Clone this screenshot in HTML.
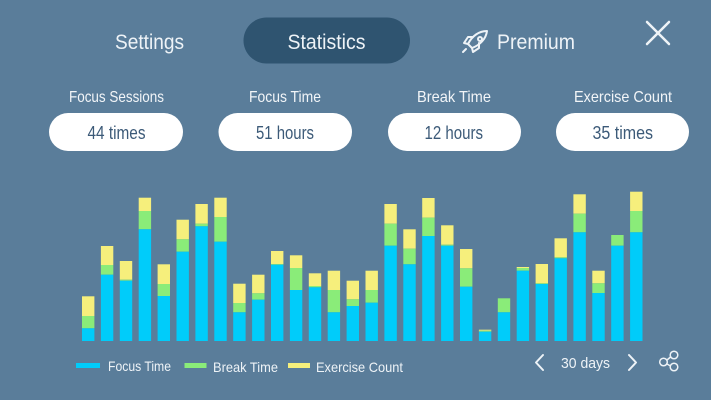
<!DOCTYPE html>
<html><head><meta charset="utf-8"><style>
html,body{margin:0;padding:0;background:#5a7d9a;}
svg{display:block;}
text{font-family:"Liberation Sans","DejaVu Sans",sans-serif;}
</style></head><body>
<svg width="711" height="400" viewBox="0 0 711 400" xmlns="http://www.w3.org/2000/svg">
<rect width="711" height="400" fill="#5a7d9a"/>
<!-- tabs -->
<rect x="243.5" y="17.5" width="166.5" height="46" rx="23" fill="#2f5470"/>
<g fill="#eef3f7" font-size="21">
<text x="115" y="49" textLength="69" lengthAdjust="spacingAndGlyphs">Settings</text>
<text x="287.5" y="49" textLength="78" lengthAdjust="spacingAndGlyphs">Statistics</text>
<text x="497" y="49" textLength="78" lengthAdjust="spacingAndGlyphs">Premium</text>
</g>
<!-- rocket icon -->
<g fill="none" stroke="#eef3f7" stroke-width="2" stroke-linejoin="round" stroke-linecap="round">
<path d="M487 31 C479 31 472 36 468 44 L472 48 C480 45 486 39 487 31 Z"/>
<circle cx="480" cy="39" r="2"/>
<path d="M468 44 L464 43 L468 37 L473 37"/>
<path d="M472 48 L473 52 L479 48 L479 43"/>
<path d="M466 49 L463 52"/>
</g>
<!-- close X -->
<g stroke="#eef3f7" stroke-width="2.5" stroke-linecap="round">
<line x1="647" y1="22" x2="669" y2="44"/>
<line x1="669" y1="22" x2="647" y2="44"/>
</g>
<!-- stat labels -->
<g fill="#f2f5f8" font-size="16">
<text x="69" y="102" textLength="95" lengthAdjust="spacingAndGlyphs">Focus Sessions</text>
<text x="249" y="102" textLength="72" lengthAdjust="spacingAndGlyphs">Focus Time</text>
<text x="417" y="102" textLength="74" lengthAdjust="spacingAndGlyphs">Break Time</text>
<text x="574" y="102" textLength="98" lengthAdjust="spacingAndGlyphs">Exercise Count</text>
</g>
<!-- pills -->
<g fill="#ffffff">
<rect x="49" y="113" width="134" height="38" rx="19"/>
<rect x="218.5" y="113" width="133.5" height="38" rx="19"/>
<rect x="388" y="113" width="133" height="38" rx="19"/>
<rect x="556" y="113" width="133" height="38" rx="19"/>
</g>
<g fill="#3c5a78" font-size="18">
<text x="87.5" y="139" textLength="58" lengthAdjust="spacingAndGlyphs">44 times</text>
<text x="256" y="139" textLength="58" lengthAdjust="spacingAndGlyphs">51 hours</text>
<text x="424.5" y="139" textLength="58.5" lengthAdjust="spacingAndGlyphs">12 hours</text>
<text x="592.5" y="139" textLength="60.5" lengthAdjust="spacingAndGlyphs">35 times</text>
</g>
<!-- legend -->
<rect x="76" y="363" width="24" height="5" fill="#00ccfa"/>
<rect x="184.5" y="363" width="22" height="5" fill="#8aec79"/>
<rect x="288" y="363" width="22" height="5" fill="#f6ef7c"/>
<g fill="#eef3f7" font-size="14">
<text x="108" y="371" textLength="63" lengthAdjust="spacingAndGlyphs">Focus Time</text>
<text x="213" y="372" textLength="65" lengthAdjust="spacingAndGlyphs">Break Time</text>
<text x="316" y="372" textLength="87" lengthAdjust="spacingAndGlyphs">Exercise Count</text>
</g>
<!-- period nav -->
<g fill="none" stroke="#eef3f7" stroke-width="2" stroke-linecap="round" stroke-linejoin="round">
<polyline points="543,355 536,362.5 543,370"/>
<polyline points="629,355 636,362.5 629,370"/>
</g>
<text x="561" y="368" font-size="15" fill="#eef3f7" textLength="49" lengthAdjust="spacingAndGlyphs">30 days</text>
<!-- share -->
<g fill="none" stroke="#eef3f7" stroke-width="1.5">
<circle cx="663.5" cy="362" r="3.8"/>
<circle cx="674" cy="355" r="3.8"/>
<circle cx="674" cy="367" r="3.8"/>
<line x1="667" y1="360" x2="670.5" y2="357"/>
<line x1="667" y1="364" x2="670.5" y2="366"/>
</g>
<g id="b">
<rect x="82" y="296.3" width="12.4" height="19.7" fill="#f6ef7c"/><rect x="82" y="316" width="12.4" height="12.3" fill="#8aec79"/><rect x="82" y="328.3" width="12.4" height="12.7" fill="#00ccfa"/>
<rect x="100.9" y="246" width="12.4" height="19" fill="#f6ef7c"/><rect x="100.9" y="265" width="12.4" height="9.7" fill="#8aec79"/><rect x="100.9" y="274.7" width="12.4" height="66.3" fill="#00ccfa"/>
<rect x="119.8" y="261" width="12.4" height="18.7" fill="#f6ef7c"/><rect x="119.8" y="279.7" width="12.4" height="1" fill="#8aec79"/><rect x="119.8" y="280.7" width="12.4" height="60.3" fill="#00ccfa"/>
<rect x="138.7" y="197.7" width="12.4" height="13.3" fill="#f6ef7c"/><rect x="138.7" y="211" width="12.4" height="18.3" fill="#8aec79"/><rect x="138.7" y="229.3" width="12.4" height="111.7" fill="#00ccfa"/>
<rect x="157.6" y="264.3" width="12.4" height="19.7" fill="#f6ef7c"/><rect x="157.6" y="284" width="12.4" height="12" fill="#8aec79"/><rect x="157.6" y="296" width="12.4" height="45" fill="#00ccfa"/>
<rect x="176.5" y="219.7" width="12.4" height="19.6" fill="#f6ef7c"/><rect x="176.5" y="239.3" width="12.4" height="12.4" fill="#8aec79"/><rect x="176.5" y="251.7" width="12.4" height="89.3" fill="#00ccfa"/>
<rect x="195.4" y="204" width="12.4" height="19.7" fill="#f6ef7c"/><rect x="195.4" y="223.7" width="12.4" height="2.6" fill="#8aec79"/><rect x="195.4" y="226.3" width="12.4" height="114.7" fill="#00ccfa"/>
<rect x="214.3" y="197.7" width="12.4" height="19.3" fill="#f6ef7c"/><rect x="214.3" y="217" width="12.4" height="24.7" fill="#8aec79"/><rect x="214.3" y="241.7" width="12.4" height="99.3" fill="#00ccfa"/>
<rect x="233.2" y="283.7" width="12.4" height="19.3" fill="#f6ef7c"/><rect x="233.2" y="303" width="12.4" height="9.3" fill="#8aec79"/><rect x="233.2" y="312.3" width="12.4" height="28.7" fill="#00ccfa"/>
<rect x="252.1" y="274.7" width="12.4" height="18.6" fill="#f6ef7c"/><rect x="252.1" y="293.3" width="12.4" height="6.4" fill="#8aec79"/><rect x="252.1" y="299.7" width="12.4" height="41.3" fill="#00ccfa"/>
<rect x="271" y="251" width="12.4" height="13" fill="#f6ef7c"/><rect x="271" y="264" width="12.4" height="0.7" fill="#8aec79"/><rect x="271" y="264.7" width="12.4" height="76.3" fill="#00ccfa"/>
<rect x="289.9" y="255.3" width="12.4" height="12.7" fill="#f6ef7c"/><rect x="289.9" y="268" width="12.4" height="22" fill="#8aec79"/><rect x="289.9" y="290" width="12.4" height="51" fill="#00ccfa"/>
<rect x="308.8" y="273.3" width="12.4" height="12.7" fill="#f6ef7c"/><rect x="308.8" y="286" width="12.4" height="1.3" fill="#8aec79"/><rect x="308.8" y="287.3" width="12.4" height="53.7" fill="#00ccfa"/>
<rect x="327.7" y="270.7" width="12.4" height="19.3" fill="#f6ef7c"/><rect x="327.7" y="290" width="12.4" height="22.3" fill="#8aec79"/><rect x="327.7" y="312.3" width="12.4" height="28.7" fill="#00ccfa"/>
<rect x="346.6" y="280.7" width="12.4" height="18.6" fill="#f6ef7c"/><rect x="346.6" y="299.3" width="12.4" height="6.7" fill="#8aec79"/><rect x="346.6" y="306" width="12.4" height="35" fill="#00ccfa"/>
<rect x="365.5" y="270.7" width="12.4" height="19.3" fill="#f6ef7c"/><rect x="365.5" y="290" width="12.4" height="12.7" fill="#8aec79"/><rect x="365.5" y="302.7" width="12.4" height="38.3" fill="#00ccfa"/>
<rect x="384.4" y="204" width="12.4" height="19.7" fill="#f6ef7c"/><rect x="384.4" y="223.7" width="12.4" height="22" fill="#8aec79"/><rect x="384.4" y="245.7" width="12.4" height="95.3" fill="#00ccfa"/>
<rect x="403.3" y="229.3" width="12.4" height="19.4" fill="#f6ef7c"/><rect x="403.3" y="248.7" width="12.4" height="15.6" fill="#8aec79"/><rect x="403.3" y="264.3" width="12.4" height="76.7" fill="#00ccfa"/>
<rect x="422.2" y="198" width="12.4" height="19.7" fill="#f6ef7c"/><rect x="422.2" y="217.7" width="12.4" height="18.3" fill="#8aec79"/><rect x="422.2" y="236" width="12.4" height="105" fill="#00ccfa"/>
<rect x="441.1" y="225.3" width="12.4" height="19.4" fill="#f6ef7c"/><rect x="441.1" y="244.7" width="12.4" height="1" fill="#8aec79"/><rect x="441.1" y="245.7" width="12.4" height="95.3" fill="#00ccfa"/>
<rect x="460" y="249" width="12.4" height="19.3" fill="#f6ef7c"/><rect x="460" y="268.3" width="12.4" height="18.4" fill="#8aec79"/><rect x="460" y="286.7" width="12.4" height="54.3" fill="#00ccfa"/>
<rect x="478.9" y="329.7" width="12.4" height="1" fill="#f6ef7c"/><rect x="478.9" y="330.7" width="12.4" height="1" fill="#8aec79"/><rect x="478.9" y="331.7" width="12.4" height="9.3" fill="#00ccfa"/>
<rect x="497.8" y="298.3" width="12.4" height="14" fill="#8aec79"/><rect x="497.8" y="312.3" width="12.4" height="28.7" fill="#00ccfa"/>
<rect x="516.7" y="267" width="12.4" height="1" fill="#f6ef7c"/><rect x="516.7" y="268" width="12.4" height="2.7" fill="#8aec79"/><rect x="516.7" y="270.7" width="12.4" height="70.3" fill="#00ccfa"/>
<rect x="535.6" y="264" width="12.4" height="19.3" fill="#f6ef7c"/><rect x="535.6" y="283.3" width="12.4" height="0.7" fill="#8aec79"/><rect x="535.6" y="284" width="12.4" height="57" fill="#00ccfa"/>
<rect x="554.5" y="238.3" width="12.4" height="19" fill="#f6ef7c"/><rect x="554.5" y="257.3" width="12.4" height="1" fill="#8aec79"/><rect x="554.5" y="258.3" width="12.4" height="82.7" fill="#00ccfa"/>
<rect x="573.4" y="194.3" width="12.4" height="19.4" fill="#f6ef7c"/><rect x="573.4" y="213.7" width="12.4" height="18.6" fill="#8aec79"/><rect x="573.4" y="232.3" width="12.4" height="108.7" fill="#00ccfa"/>
<rect x="592.3" y="270.7" width="12.4" height="12.6" fill="#f6ef7c"/><rect x="592.3" y="283.3" width="12.4" height="9.7" fill="#8aec79"/><rect x="592.3" y="293" width="12.4" height="48" fill="#00ccfa"/>
<rect x="611.2" y="235" width="12.4" height="10.7" fill="#8aec79"/><rect x="611.2" y="245.7" width="12.4" height="95.3" fill="#00ccfa"/>
<rect x="630.1" y="191.7" width="12.4" height="19.3" fill="#f6ef7c"/><rect x="630.1" y="211" width="12.4" height="21.3" fill="#8aec79"/><rect x="630.1" y="232.3" width="12.4" height="108.7" fill="#00ccfa"/>
</g>
</svg>
</body></html>
